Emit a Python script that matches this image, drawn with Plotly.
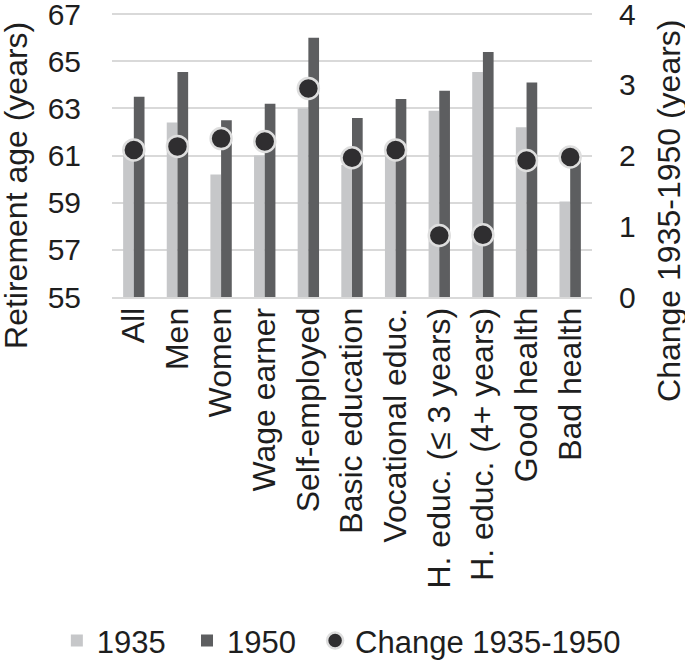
import plotly.graph_objects as go

categories = ["All", "Men", "Women", "Wage earner", "Self-employed", "Basic education",
              "Vocational educ.", "H. educ. (≤ 3 years)", "H. educ. (4+ years)",
              "Good health", "Bad health"]
age_1935 = [61.0, 62.4, 60.2, 61.0, 63.0, 60.6, 61.3, 62.9, 64.55, 62.2, 59.05]
age_1950 = [63.5, 64.55, 62.5, 63.2, 66.0, 62.6, 63.4, 63.75, 65.4, 64.1, 61.0]
change = [2.08, 2.13, 2.24, 2.2, 2.95, 1.97, 2.08, 0.87, 0.88, 1.93, 1.98]

font = "Liberation Sans, Arial, sans-serif"
txt = "#1e1e1e"
fs = 30

fig = go.Figure()
fig.add_trace(go.Bar(x=categories, y=age_1935, name="1935", marker_color="#c6c7c9",
                     marker_line_width=0, legend="legend"))
fig.add_trace(go.Bar(x=categories, y=age_1950, name="1950", marker_color="#5d5e60",
                     marker_line_width=0, legend="legend2"))
fig.add_trace(go.Scatter(x=categories, y=change, name="Change 1935-1950", mode="markers",
                         yaxis="y2", legend="legend3",
                         marker=dict(size=21, color="#2f2e30",
                                     line=dict(color="#dedede", width=2.5))))

def leg(x):
    return dict(orientation="h", xref="container", yref="container",
                x=x, xanchor="left", y=0.032, yanchor="middle",
                font=dict(size=31, color=txt), itemwidth=30,
                bgcolor="rgba(0,0,0,0)")

fig.update_layout(
    width=685, height=662,
    margin=dict(l=112, r=93, t=13, b=365, autoexpand=False),
    paper_bgcolor="white", plot_bgcolor="white",
    barmode="group", bargap=0.51, bargroupgap=0,
    font=dict(family=font, size=fs, color=txt),
    showlegend=True,
    legend=leg(0.083), legend2=leg(0.273), legend3=leg(0.46),
    xaxis=dict(type="category", range=[-0.5, 10.5], tickangle=-90, tickfont=dict(size=32),
               showline=True, linecolor="#d9d9d9", linewidth=2,
               showgrid=False, ticks="", automargin=False, ticklabelstandoff=-4),
    yaxis=dict(range=[55, 67.05], tickvals=[55, 57, 59, 61, 63, 65, 67],
               showgrid=True, gridcolor="#d9d9d9", ticklabeloverflow="allow",
               gridwidth=1.8, zeroline=False, ticks="", automargin=False,
               ticklabelstandoff=30),
    yaxis2=dict(range=[0, 4.0167], tickvals=[0, 1, 2, 3, 4], overlaying="y", side="right",
                showgrid=False, zeroline=False, ticks="", automargin=False,
                ticklabelstandoff=26, ticklabeloverflow="allow"),
    annotations=[
        dict(text="Retirement age (years)", textangle=-90, xref="paper", yref="paper",
             x=0, xanchor="center", xshift=-96, y=0.391, yanchor="middle",
             showarrow=False, font=dict(size=32, color=txt)),
        dict(text="Change 1935-1950 (years)", textangle=-90, xref="paper", yref="paper",
             x=1, xanchor="center", xshift=77, y=0.303, yanchor="middle",
             showarrow=False, font=dict(size=32, color=txt)),
    ],
)

fig.write_html("out.html", config={"displayModeBar": False},
               post_script="document.body.style.margin='0';")
